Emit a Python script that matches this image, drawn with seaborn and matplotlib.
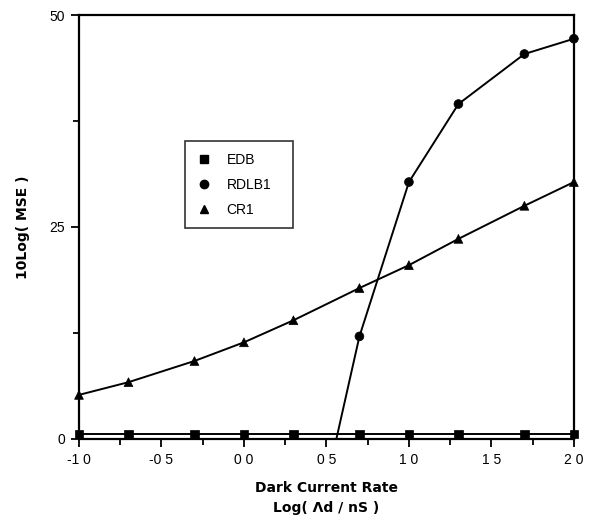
import numpy as np
import pandas as pd
import matplotlib
matplotlib.use("Agg")
import matplotlib.pyplot as plt
from matplotlib.lines import Line2D
from matplotlib.ticker import MultipleLocator
import seaborn as sns

# data
log_rate = [-1.0, -0.7, -0.3, 0.0, 0.3, 0.7, 1.0, 1.3, 1.7, 2.0]
edb = [0.6, 0.6, 0.6, 0.6, 0.6, 0.6, 0.6, 0.6, 0.6, 0.6]
rdlb1 = [np.nan, np.nan, np.nan, np.nan, -22.5, 12.1, 30.3, 39.5, 45.4, 47.2]
cr1 = [5.2, 6.7, 9.2, 11.4, 14.0, 17.8, 20.5, 23.6, 27.5, 30.3]
series_names = ["EDB", "RDLB1", "CR1"]
series_markers = {"EDB": "s", "RDLB1": "o", "CR1": "^"}

x_ticks = [-1.0, -0.5, 0.0, 0.5, 1.0, 1.5, 2.0]
x_tick_labels = ["-1 0", "-0 5", "0 0", "0 5", "1 0", "1 5", "2 0"]
y_ticks = [0, 25, 50]

df = pd.DataFrame({
    "x": log_rate * 3,
    "y": edb + rdlb1 + cr1,
    "series": [s for s in series_names for _ in log_rate],
}).dropna()

sns.set_style("ticks")
plt.rcParams['font.family'] = ['Liberation Sans', 'DejaVu Sans']
plt.rcParams['text.color'] = 'black'
plt.rcParams['axes.labelcolor'] = 'black'
plt.rcParams['xtick.color'] = 'black'
plt.rcParams['ytick.color'] = 'black'

fig = plt.figure(figsize=(5.97, 5.21), dpi=100)
ax = fig.add_axes([0.1323, 0.1574, 0.829, 0.8138])

# lines (clipped at the axes, RDLB1 runs below zero)
sns.lineplot(data=df, x="x", y="y", hue="series", palette=["black"] * 3,
             hue_order=series_names, linewidth=1.4, legend=False, ax=ax,
             sort=True, estimator=None)

# markers (only the visible ones, drawn over the frame edges)
visible = df[(df.y >= 0) & (df.y <= 50)]
sns.scatterplot(data=visible, x="x", y="y", style="series", style_order=series_names,
                markers=series_markers, color="black", s=40, edgecolor="black",
                legend=False, ax=ax, clip_on=False, zorder=5)

ax.set_xlim(-1.0, 2.0)
ax.set_ylim(0, 50)
ax.set_xticks(x_ticks)
ax.set_xticklabels(x_tick_labels, fontsize=10)
ax.set_yticks(y_ticks)
ax.set_yticklabels([str(v) for v in y_ticks], fontsize=10)
ax.xaxis.set_minor_locator(MultipleLocator(0.25))
ax.yaxis.set_minor_locator(MultipleLocator(12.5))
ax.tick_params(which="major", direction="out", length=6, width=1.3, colors="black", pad=4)
ax.tick_params(which="minor", direction="out", length=4, width=1.3, colors="black")
for sp in ax.spines.values():
    sp.set_visible(True)
    sp.set_linewidth(1.6)
    sp.set_color("black")

ax.set_xlabel("Dark Current Rate\nLog( Λd / nS )", fontsize=10, fontweight="bold",
              family=["DejaVu Sans"], linespacing=1.6, labelpad=10, color="black")
ax.set_ylabel("10Log( MSE )", fontsize=10, fontweight="bold", family=["DejaVu Sans"],
              labelpad=14, color="black")

handles = [Line2D([], [], linestyle="none", marker=series_markers[s], color="black",
                  markersize=6) for s in series_names]
leg = ax.legend(handles, series_names, loc="lower left",
                bbox_to_anchor=(0.214, 0.498, 0.218, 0.2), mode="expand",
                borderaxespad=0, frameon=True, fancybox=False, fontsize=10,
                labelspacing=0.8, handletextpad=1.0, borderpad=0.8, handlelength=1.2)
leg.get_frame().set_edgecolor("black")
leg.get_frame().set_linewidth(1.2)
for t in leg.get_texts():
    t.set_color("black")

fig.savefig("out.png", dpi=100)
